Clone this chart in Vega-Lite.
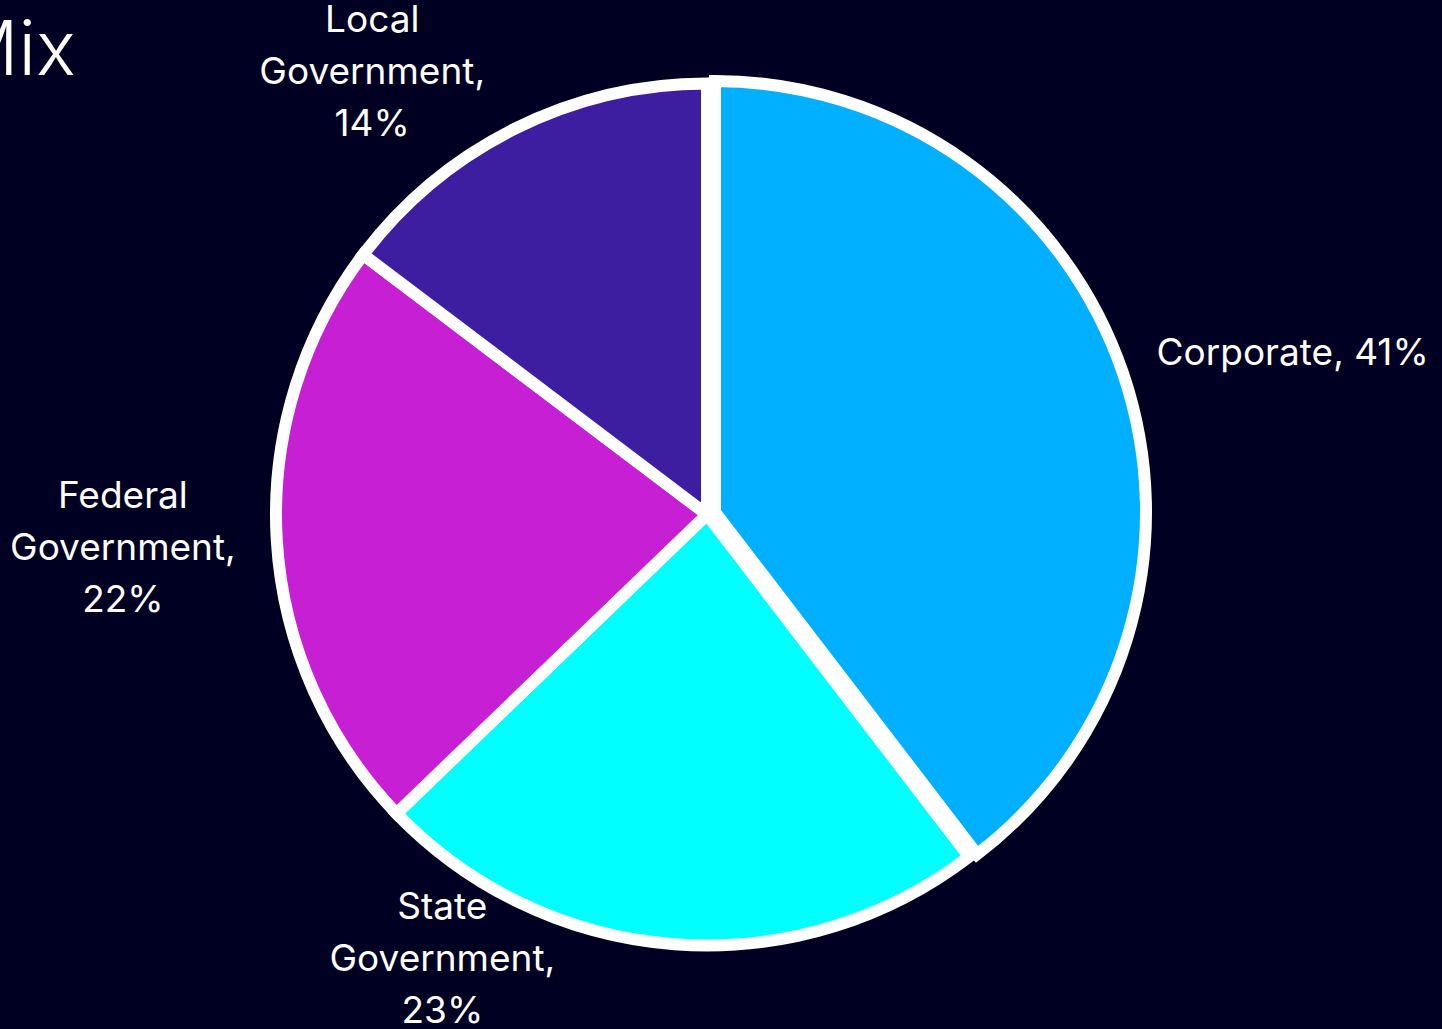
{
  "$schema": "https://vega.github.io/schema/vega-lite/v6.json",
  "width": 1470,
  "height": 1029,
  "autosize": {"type": "none"},
  "padding": {"left": -28, "top": 0, "right": 0, "bottom": 0},
  "background": "#000022",
  "title": {"text": "Mix", "anchor": "start", "frame": "group", "orient": "top", "offset": -150, "baseline": "alphabetic", "dx": -21, "fontSize": 75, "font": "Inter", "fontWeight": 300, "color": "#ffffff"},
  "data": {"values": [
    {"segment": "Corporate", "share": 39.6, "rank": 1, "label": "Corporate, 41%"},
    {"segment": "State Government", "share": 23.2, "rank": 2, "label": "State\nGovernment,\n23%"},
    {"segment": "Federal Government", "share": 22.5, "rank": 3, "label": "Federal\nGovernment,\n22%"},
    {"segment": "Local Government", "share": 14.7, "rank": 4, "label": "Local\nGovernment,\n14%"}
  ]},
  "encoding": {
    "theta": {"field": "share", "type": "quantitative", "stack": true},
    "order": {"field": "rank", "type": "quantitative"},
    "color": {"field": "segment", "type": "nominal", "legend": null,
      "scale": {"domain": ["Corporate", "State Government", "Federal Government", "Local Government"],
                "range": ["#00B0FF", "#00FFFF", "#C71FD3", "#3D1DA0"]}}
  },
  "layer": [
    {"mark": {"type": "arc", "outerRadius": 431, "stroke": "#ffffff", "strokeWidth": 12},
     "encoding": {"opacity": {"condition": {"test": "datum.segment === 'Corporate'", "value": 0}, "value": 1}}},
    {"mark": {"type": "arc", "outerRadius": 431, "stroke": "#ffffff", "strokeWidth": 12, "xOffset": 8, "yOffset": -2.4},
     "encoding": {"opacity": {"condition": {"test": "datum.segment === 'Corporate'", "value": 1}, "value": 0}}},
    {"mark": {"type": "text", "clip": true, "radius": 500, "dx": -112, "dy": -46, "align": "center", "baseline": "middle", "fontSize": 37, "font": "Inter", "lineBreak": "\n", "lineHeight": 52},
     "encoding": {"color": {"value": "#ffffff"}, "text": {"condition": {"test": "datum.segment === 'Local Government'", "field": "label", "type": "nominal"}, "value": ""}}},
    {"mark": {"type": "text", "clip": true, "radius": 500, "dx": -85, "dy": -47, "align": "center", "baseline": "middle", "fontSize": 37, "font": "Inter", "lineBreak": "\n", "lineHeight": 52},
     "encoding": {"color": {"value": "#ffffff"}, "text": {"condition": {"test": "datum.segment === 'Federal Government'", "field": "label", "type": "nominal"}, "value": ""}}},
    {"mark": {"type": "text", "clip": true, "radius": 500, "dx": -227, "dy": -105, "align": "center", "baseline": "middle", "fontSize": 37, "font": "Inter", "lineBreak": "\n", "lineHeight": 52},
     "encoding": {"color": {"value": "#ffffff"}, "text": {"condition": {"test": "datum.segment === 'State Government'", "field": "label", "type": "nominal"}, "value": ""}}},
    {"mark": {"type": "text", "clip": true, "radius": 500, "dx": -24, "dy": 0, "align": "left", "baseline": "middle", "fontSize": 37, "font": "Inter", "lineBreak": "\n", "lineHeight": 52},
     "encoding": {"color": {"value": "#ffffff"}, "text": {"condition": {"test": "datum.segment === 'Corporate'", "field": "label", "type": "nominal"}, "value": ""}}}
  ],
  "config": {"view": {"stroke": null}}
}
